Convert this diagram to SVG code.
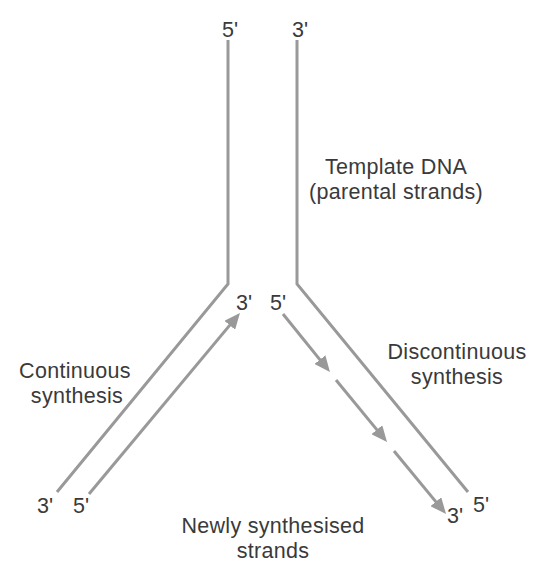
<svg xmlns="http://www.w3.org/2000/svg" width="541" height="562" viewBox="0 0 541 562">
<style>
.s{fill:none;stroke:#999999;stroke-width:3;}
.t{font-family:"Liberation Sans",Arial,sans-serif;font-size:21.5px;fill:#3a3a3a;text-anchor:middle;}
</style>
<defs>
<marker id="ah" markerUnits="userSpaceOnUse" markerWidth="16" markerHeight="14" refX="7" refY="7" orient="auto">
<path d="M0,0 L16,7 L0,14 z" fill="#999999"/>
</marker>
</defs>
<rect width="541" height="562" fill="#ffffff"/>
<g id="connectors">
<polyline id="template-left" class="s" points="228,40 228,284 57,492"/>
<polyline id="template-right" class="s" points="297,40 297,284 468,492"/>
<line id="continuous" class="s" x1="89" y1="494" x2="234.2" y2="319.9" marker-end="url(#ah)"/>
<line id="okazaki-1" class="s" x1="283" y1="314" x2="324.3" y2="365.1" marker-end="url(#ah)"/>
<line id="okazaki-2" class="s" x1="336" y1="380" x2="381.3" y2="435.1" marker-end="url(#ah)"/>
<line id="okazaki-3" class="s" x1="394" y1="451" x2="440.3" y2="507.1" marker-end="url(#ah)"/>
</g>
<g id="end-labels">
<text class="t" x="230" y="37">5'</text>
<text class="t" x="300" y="37">3'</text>
<text class="t" x="244" y="310">3'</text>
<text class="t" x="278" y="310">5'</text>
<text class="t" x="45" y="513">3'</text>
<text class="t" x="81" y="513">5'</text>
<text class="t" x="455" y="523">3'</text>
<text class="t" x="481" y="512">5'</text>
</g>
<g id="template-label">
<text class="t" x="396" y="174" letter-spacing="0.3">Template DNA</text>
<text class="t" x="396" y="199" letter-spacing="0.3">(parental strands)</text>
</g>
<g id="continuous-label">
<text class="t" x="75" y="378" letter-spacing="0.3">Continuous</text>
<text class="t" x="77" y="403" letter-spacing="0.3">synthesis</text>
</g>
<g id="discontinuous-label">
<text class="t" x="457" y="359" letter-spacing="0.3">Discontinuous</text>
<text class="t" x="457" y="384" letter-spacing="0.3">synthesis</text>
</g>
<g id="newly-label">
<text class="t" x="273" y="533" letter-spacing="0.3">Newly synthesised</text>
<text class="t" x="273" y="558" letter-spacing="0.3">strands</text>
</g>
</svg>
